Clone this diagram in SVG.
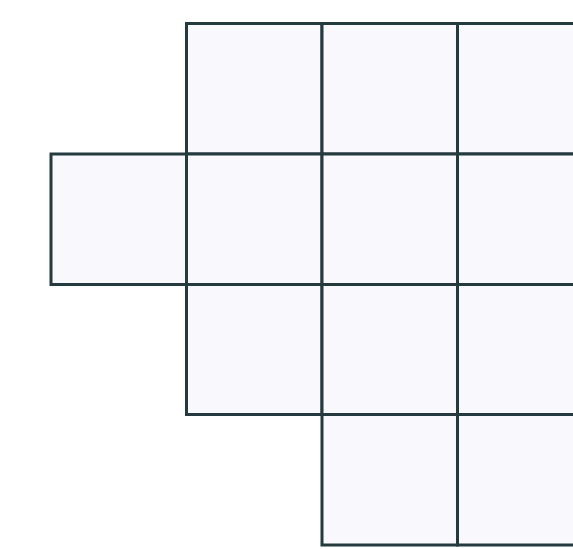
<svg xmlns="http://www.w3.org/2000/svg" width="573" height="549" viewBox="0 0 573 549">
<style>
.c{fill:#f8f8fd;stroke:#243a3f;stroke-width:3}
</style>
<rect width="573" height="549" fill="#ffffff"/>
<g id="r0c1"><rect class="c" x="186.5" y="23.5" width="135.5" height="130.5"/></g>
<g id="r0c2"><rect class="c" x="322" y="23.5" width="135.5" height="130.5"/></g>
<g id="r0c3"><rect class="c" x="457.5" y="23.5" width="135.5" height="130.5"/></g>
<g id="r1c0"><rect class="c" x="51" y="154" width="135.5" height="130.5"/></g>
<g id="r1c1"><rect class="c" x="186.5" y="154" width="135.5" height="130.5"/></g>
<g id="r1c2"><rect class="c" x="322" y="154" width="135.5" height="130.5"/></g>
<g id="r1c3"><rect class="c" x="457.5" y="154" width="135.5" height="130.5"/></g>
<g id="r2c1"><rect class="c" x="186.5" y="284.5" width="135.5" height="130"/></g>
<g id="r2c2"><rect class="c" x="322" y="284.5" width="135.5" height="130"/></g>
<g id="r2c3"><rect class="c" x="457.5" y="284.5" width="135.5" height="130"/></g>
<g id="r3c2"><rect class="c" x="322" y="414.5" width="135.5" height="130.5"/></g>
<g id="r3c3"><rect class="c" x="457.5" y="414.5" width="135.5" height="130.5"/></g>
<g id="connectors"></g>
</svg>
